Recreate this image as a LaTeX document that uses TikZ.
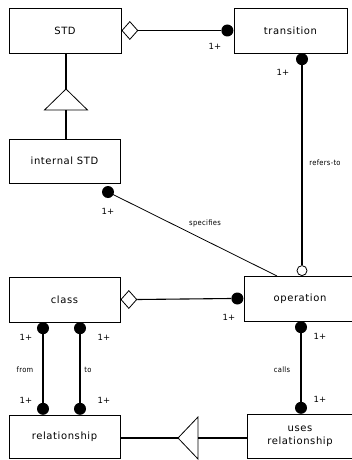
\documentclass[tikz,border=0pt]{standalone}
\usepackage{fontspec}
\usetikzlibrary{shapes.geometric}
\setmainfont{DejaVu Sans}
\newfontfamily\boxfont[LetterSpace=6]{DejaVu Sans}
\newfontfamily\tagfont[LetterSpace=4]{DejaVu Sans Condensed}
\begin{document}
\begin{tikzpicture}[x=1pt,y=-1pt,
  classbox/.style={draw,line width=0.9pt,rectangle,inner sep=0pt,
    font=\boxfont\fontsize{10}{13}\selectfont,align=center},
  link/.style={line width=1.1pt},
  mult/.style={font=\fontsize{8.5}{10}\selectfont,inner sep=0pt},
  role/.style={font=\tagfont\fontsize{7.5}{8}\selectfont,inner sep=0pt},
  dot/.style={circle,fill=black,inner sep=0pt,minimum size=12pt},
  ring/.style={circle,draw,fill=white,line width=0.8pt,inner sep=0pt,minimum size=10pt},
  aggr/.style={diamond,draw,fill=white,line width=0.8pt,inner sep=0pt,minimum width=16pt,minimum height=18pt},
  gen/.style={draw,fill=white,line width=0.8pt}]
\useasboundingbox (0,0) rectangle (351,460);

% classes
\node[classbox,minimum width=112pt,minimum height=45pt] (std) at (65,30.5) {STD};
\node[classbox,minimum width=113pt,minimum height=45pt] (trans) at (290.5,30.5) {transition};
\node[classbox,minimum width=111pt,minimum height=44pt] (istd) at (64.5,161) {internal STD};
\node[classbox,minimum width=111pt,minimum height=45pt] (class) at (64.5,299.5) {class};
\node[classbox,minimum width=112pt,minimum height=45pt] (oper) at (300,298.5) {operation};
\node[classbox,minimum width=111pt,minimum height=43pt] (rel) at (64.5,436.5) {relationship};
\node[classbox,minimum width=106pt,minimum height=44pt] (uses) at (300,436) {uses\\relationship};

% STD <>---* transition
\node[aggr,anchor=west] (dstd) at (std.east) {};
\node[dot,anchor=east] (dtrl) at (trans.west) {};
\draw[link] (dstd.east) -- (dtrl.west);
\node[mult] (m1) at (215,46) {1+};

% internal STD specialises STD
\coordinate (tapex) at (66,89);
\draw[link] (std.south -| tapex) -- (tapex);
\draw[gen] (tapex) -- (87.5,110) -- (44.5,110) -- cycle;
\coordinate (tbase) at (66,110);
\draw[link] (tbase) -- (istd.north -| tbase);

% transition refers-to operation
\node[dot,anchor=north] (dtrb) at (302,53) {};
\node[ring,anchor=south] (rop) at (302,276) {};
\draw[link] (dtrb.south) -- (rop.north);
\node[mult] (m2) at (283,72) {1+};
\node[role] (r1) at (325,163) {refers-to};

% internal STD specifies operation
\node[dot] (dist) at (108,192) {};
\coordinate (ospec) at (277,276);
\draw[line width=0.8pt] (dist.center) -- (ospec);
\node[mult] (m3) at (108,211) {1+};
\node[role] (r2) at (205,223) {specifies};

% class <>---* operation
\node[aggr,anchor=west] (dcl) at (class.east) {};
\node[dot,anchor=east] (dop) at (oper.west) {};
\draw[link] (dcl.east) -- (dop.west);
\node[mult] (m4) at (229,317) {1+};

% class -- relationship (from / to)
\node[dot,anchor=north] (cf) at (43,322) {};
\node[dot,anchor=north] (ct) at (80,322) {};
\node[dot,anchor=south] (rf) at (43,415) {};
\node[dot,anchor=south] (rt) at (80,415) {};
\draw[link] (cf.center) -- (rf.center);
\draw[link] (ct.center) -- (rt.center);
\node[mult] (m5) at (26,337) {1+};
\node[mult] (m6) at (104,337) {1+};
\node[mult] (m7) at (26,400) {1+};
\node[mult] (m8) at (104,400) {1+};
\node[role] (r3) at (25,370) {from};
\node[role] (r4) at (88,370) {to};

% operation calls uses relationship
\node[dot,anchor=north] (oc) at (301,321) {};
\node[dot,anchor=south] (uc) at (301,414) {};
\draw[link] (oc.center) -- (uc.center);
\node[mult] (m9) at (320,336) {1+};
\node[mult] (m10) at (320,399) {1+};
\node[role] (r5) at (282,370) {calls};

% uses relationship specialises relationship
\coordinate (hapex) at (178,438);
\coordinate (hbase) at (198,438);
\draw[link] (rel.east |- hapex) -- (hapex);
\draw[gen] (hapex) -- (198,417) -- (198,459) -- cycle;
\draw[link] (hbase) -- (uses.west |- hbase);
\end{tikzpicture}
\end{document}
